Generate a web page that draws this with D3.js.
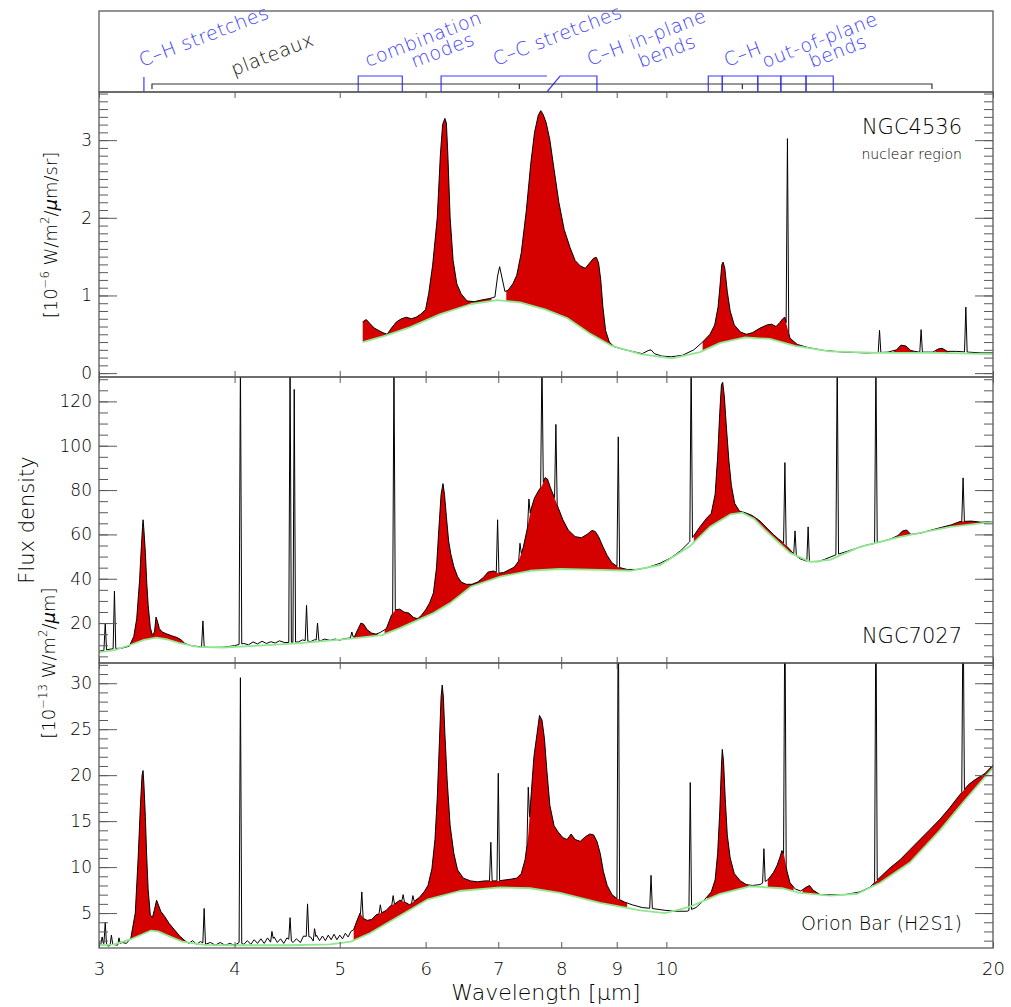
<!DOCTYPE html>
<html><head><meta charset="utf-8">
<script src="https://cdn.jsdelivr.net/npm/d3@7"></script>
<style>body{margin:0;background:#fff}</style>
</head><body>
<svg id="c" width="1011" height="1007"></svg>
<script>
// ---------------- DATA ----------------
const xTicks = [3,4,5,6,7,8,9,10,20];

// NGC4536 nuclear region  [wavelength (um), 1e-6 W/m2/um/sr]
const ngc4536Profile = [[5.25,0.66],[5.29,0.69],[5.33,0.64],[5.38,0.58],[5.43,0.55],[5.48,0.52],[5.53,0.50],[5.58,0.58],[5.64,0.66],[5.70,0.70],[5.76,0.72],[5.82,0.70],[5.88,0.72],[5.94,0.76],[6.00,0.82],[6.04,1.03],[6.09,1.39],[6.15,2.0],[6.19,2.8],[6.22,3.20],[6.25,3.28],[6.27,3.22],[6.29,2.80],[6.32,2.00],[6.36,1.45],[6.41,1.15],[6.47,1.02],[6.55,0.93],[6.65,0.92],[6.75,0.94],[6.87,0.96],[6.95,0.98],[6.99,1.25],[7.02,1.37],[7.05,1.25],[7.10,1.05],[7.15,1.07],[7.22,1.15],[7.28,1.26],[7.35,1.55],[7.43,2.10],[7.50,2.70],[7.56,3.10],[7.62,3.32],[7.66,3.38],[7.70,3.33],[7.75,3.22],[7.81,3.00],[7.88,2.62],[7.96,2.20],[8.05,1.85],[8.15,1.62],[8.24,1.45],[8.33,1.38],[8.42,1.35],[8.50,1.42],[8.57,1.48],[8.62,1.49],[8.66,1.42],[8.70,1.20],[8.74,0.85],[8.79,0.55],[8.86,0.40],[8.95,0.34],[9.10,0.31],[9.30,0.28],[9.50,0.25],[9.62,0.29],[9.68,0.30],[9.75,0.25],[9.90,0.22],[10.10,0.21],[10.35,0.23],[10.60,0.30],[10.80,0.40],[10.97,0.50],[11.08,0.62],[11.16,0.85],[11.21,1.15],[11.25,1.40],[11.28,1.43],[11.32,1.35],[11.38,1.05],[11.45,0.80],[11.55,0.62],[11.70,0.53],[11.85,0.50],[12.00,0.52],[12.20,0.58],[12.38,0.62],[12.50,0.63],[12.62,0.60],[12.72,0.65],[12.80,0.70],[12.86,0.72],[12.92,0.60],[13.00,0.45],[13.20,0.37],[13.50,0.33],[14.00,0.29],[14.60,0.27],[15.30,0.26],[16.00,0.27],[16.30,0.30],[16.45,0.36],[16.62,0.35],[16.80,0.29],[17.10,0.27],[17.60,0.27],[17.80,0.31],[17.95,0.32],[18.15,0.28],[18.50,0.28],[19.00,0.27],[19.50,0.26],[20.00,0.26]];
const ngc4536Continuum = [[5.25,0.40],[5.50,0.48],[5.80,0.59],[6.19,0.76],[6.61,0.89],[6.98,0.94],[7.33,0.91],[7.73,0.82],[8.10,0.71],[8.50,0.51],[8.91,0.35],[9.47,0.245],[10.12,0.19],[10.74,0.27],[11.21,0.39],[11.82,0.46],[12.46,0.44],[13.14,0.35],[14.15,0.28],[15.74,0.26],[17.87,0.26],[20.0,0.245]];
const ngc4536Lines = [[12.93,3.02],[15.72,0.55],[17.17,0.56],[18.88,0.85]];
const ngc4536Bands = [[5.25,6.9],[7.12,9.2],[10.8,13.3],[16.2,16.9],[17.7,18.2]];
const ngc4536YTicks = [0,1,2,3];

// NGC7027  [wavelength (um), 1e-13 W/m2/um]
const ngc7027Profile = [[3.00,7.3],[3.05,8.0],[3.10,8.5],[3.15,8.7],[3.20,9.6],[3.23,14],[3.25,22],[3.27,39.5],[3.28,52],[3.29,63],[3.294,66.6],[3.30,62],[3.31,52],[3.32,38],[3.33,28],[3.345,18],[3.36,14.5],[3.375,16],[3.386,22.7],[3.395,21],[3.41,17.5],[3.43,16.0],[3.46,15.2],[3.50,14.3],[3.54,13.5],[3.57,12.5],[3.60,10.8],[3.65,9.8],[3.72,9.3],[3.80,9.0],[3.90,9.1],[4.00,9.8],[4.04,10.4],[4.08,10.8],[4.12,10.2],[4.16,11.5],[4.20,10.6],[4.24,11.8],[4.28,10.8],[4.32,11.6],[4.36,11.0],[4.40,12.0],[4.45,11.2],[4.58,11.5],[4.62,12.4],[4.70,11.6],[4.74,12.5],[4.80,12.0],[4.84,12.8],[4.90,12.2],[4.95,12.8],[5.00,12.3],[5.05,13.0],[5.10,13.2],[5.16,14.0],[5.20,17.5],[5.23,20.0],[5.26,19.5],[5.30,17.0],[5.35,15.5],[5.40,15.0],[5.45,15.8],[5.52,17.5],[5.58,23.5],[5.63,26.0],[5.68,26.3],[5.73,25.0],[5.79,24.5],[5.85,22.5],[5.90,22.0],[5.95,23.6],[6.00,26.0],[6.05,29.0],[6.10,33.6],[6.14,45],[6.17,62],[6.20,78],[6.225,82.9],[6.245,78],[6.27,68],[6.30,57],[6.33,51],[6.37,45.5],[6.42,41],[6.47,38.5],[6.54,37.5],[6.62,37.5],[6.70,38.5],[6.78,40.5],[6.85,43.0],[6.93,43.5],[7.00,42.5],[7.08,42.8],[7.16,44.0],[7.24,45.2],[7.31,48.0],[7.38,54.0],[7.44,62.0],[7.50,71.0],[7.56,76.5],[7.62,79.5],[7.68,82.0],[7.73,85.6],[7.77,85.0],[7.82,81.0],[7.88,77.0],[7.95,72.0],[8.03,66.5],[8.12,62.0],[8.24,59.0],[8.35,58.5],[8.45,60.0],[8.54,61.8],[8.60,61.3],[8.66,59.0],[8.74,54.5],[8.82,50.5],[8.91,47.2],[9.03,45.2],[9.20,44.2],[9.40,44.2],[9.60,45.0],[9.87,47.0],[10.10,49.5],[10.30,52.5],[10.50,56.5],[10.74,63.5],[10.90,67.5],[11.00,69.5],[11.09,78.0],[11.15,95.0],[11.20,115.0],[11.24,127.5],[11.27,128.6],[11.31,122],[11.36,108],[11.42,93],[11.48,82],[11.56,74.0],[11.68,70.5],[11.82,69.8],[12.00,68.5],[12.20,66.0],[12.40,62.5],[12.55,60.0],[12.68,58.0],[12.80,56.5],[12.95,54.0],[13.10,51.3],[13.28,49.0],[13.50,47.8],[13.80,47.7],[14.00,48.8],[14.30,50.6],[14.77,52.8],[15.24,55.0],[15.57,56.0],[16.07,57.8],[16.35,59.5],[16.50,61.5],[16.65,62.0],[16.80,60.0],[17.13,60.5],[17.50,61.8],[17.87,63.0],[18.30,64.3],[18.65,65.8],[19.10,66.0],[19.50,65.5],[20.00,65.8]];
const ngc7027Continuum = [[3.00,6.9],[3.10,7.8],[3.20,10.0],[3.30,12.4],[3.39,13.4],[3.47,12.6],[3.56,11.0],[3.70,9.3],[3.90,9.0],[4.13,9.6],[4.60,11.0],[5.12,13.0],[5.47,14.6],[5.68,17.7],[6.10,24.5],[6.32,29.0],[6.61,36.5],[7.03,41.0],[7.49,43.6],[7.98,44.4],[8.69,44.0],[9.26,43.6],[9.87,46.2],[10.52,54.8],[10.97,63.4],[11.45,69.0],[11.75,69.8],[12.05,67.0],[12.33,62.0],[13.00,51.7],[13.57,47.6],[14.15,48.5],[15.08,54.4],[16.42,58.9],[18.26,63.4],[20.0,65.7]];
const ngc7027Lines = [[3.04,20],[3.10,34.4],[3.74,21],[4.05,140],[4.50,140],[4.54,125.4],[4.66,28],[4.77,20],[5.13,16],[5.61,140],[6.99,66.6],[7.33,56],[7.47,76],[7.68,140],[7.91,109.6],[9.03,104],[10.54,140],[12.86,92.4],[13.14,61.6],[13.51,63.4],[14.37,140],[15.60,140],[18.77,85.5]];
const ngc7027Bands = [[3.2,3.62],[5.15,5.42],[5.5,9.3],[10.6,13.2],[16.3,20.0]];
const ngc7027YTicks = [20,40,60,80,100,120];

// Orion Bar (H2S1)  [wavelength (um), 1e-13 W/m2/um]
const orionProfile = [[3.00,1.5],[3.03,1.7],[3.06,1.4],[3.09,1.6],[3.12,1.5],[3.15,1.8],[3.18,1.7],[3.21,2.3],[3.24,5.0],[3.26,11.0],[3.275,16.5],[3.287,20.0],[3.294,20.5],[3.30,19.0],[3.31,15.5],[3.32,11.0],[3.33,7.5],[3.345,4.8],[3.36,4.5],[3.375,5.4],[3.39,6.4],[3.40,6.0],[3.42,5.2],[3.45,4.6],[3.48,3.9],[3.52,3.2],[3.56,2.5],[3.60,2.0],[3.63,1.7],[3.66,2.0],[3.69,1.6],[3.72,1.9],[3.76,1.6],[3.80,1.8],[3.84,1.5],[3.88,1.8],[3.92,1.5],[3.96,1.7],[4.00,1.5],[4.04,1.8],[4.08,1.6],[4.11,2.0],[4.14,1.6],[4.17,2.1],[4.20,1.7],[4.23,2.2],[4.26,1.7],[4.29,2.3],[4.32,1.8],[4.35,2.4],[4.38,1.8],[4.41,2.2],[4.44,1.7],[4.47,2.3],[4.53,1.8],[4.56,2.2],[4.60,1.8],[4.63,2.5],[4.70,2.4],[4.73,1.9],[4.76,2.6],[4.79,2.0],[4.82,2.5],[4.85,2.0],[4.88,2.6],[4.91,2.1],[4.94,2.7],[4.97,2.1],[5.00,2.6],[5.03,2.2],[5.06,2.8],[5.09,2.4],[5.12,3.0],[5.15,3.2],[5.18,4.0],[5.22,5.0],[5.26,4.4],[5.30,4.2],[5.35,4.3],[5.40,4.8],[5.46,5.0],[5.52,5.3],[5.57,5.8],[5.62,6.0],[5.68,6.4],[5.74,6.2],[5.80,5.9],[5.86,6.3],[5.92,6.7],[5.98,7.3],[6.03,8.0],[6.08,9.8],[6.12,13.0],[6.15,17.5],[6.18,24.0],[6.20,28.5],[6.215,29.8],[6.23,28.5],[6.25,24.5],[6.28,19.5],[6.32,14.5],[6.37,11.5],[6.42,9.7],[6.50,8.8],[6.60,8.5],[6.70,8.4],[6.80,8.5],[6.90,8.5],[7.00,8.5],[7.10,8.6],[7.20,8.7],[7.28,8.8],[7.35,9.3],[7.41,10.8],[7.46,13.5],[7.50,17.3],[7.55,22.0],[7.60,24.5],[7.64,26.5],[7.68,26.0],[7.72,24.0],[7.76,20.5],[7.81,16.7],[7.88,14.5],[7.95,13.8],[8.03,13.2],[8.10,13.0],[8.17,13.6],[8.24,13.0],[8.33,12.8],[8.42,13.3],[8.50,13.6],[8.57,13.5],[8.63,12.8],[8.69,11.5],[8.75,9.5],[8.82,8.0],[8.91,7.0],[9.00,6.6],[9.15,6.2],[9.30,5.9],[9.50,5.6],[9.70,5.5],[9.97,5.3],[10.20,5.2],[10.45,5.2],[10.65,5.6],[10.85,6.5],[11.00,7.3],[11.09,8.6],[11.15,11.5],[11.20,16.0],[11.24,21.0],[11.26,22.8],[11.29,21.5],[11.33,17.5],[11.38,13.5],[11.45,11.0],[11.55,9.3],[11.70,8.5],[11.85,8.1],[12.00,8.0],[12.20,8.1],[12.40,8.6],[12.55,9.4],[12.65,10.2],[12.72,11.0],[12.78,11.8],[12.84,11.3],[12.92,9.5],[13.00,8.3],[13.15,7.6],[13.30,7.4],[13.45,7.8],[13.55,8.0],[13.65,7.5],[13.86,7.0],[14.20,7.0],[14.60,7.0],[15.08,7.3],[15.40,7.8],[15.74,8.9],[16.07,9.9],[16.42,10.8],[16.77,11.9],[17.13,13.0],[17.50,14.1],[17.87,15.2],[18.26,16.5],[18.65,17.9],[19.00,19.0],[19.25,19.5],[19.67,20.2],[20.00,21.1]];
const orionContinuum = [[3.00,1.5],[3.10,1.6],[3.20,2.1],[3.29,2.7],[3.35,3.1],[3.40,3.0],[3.48,2.5],[3.58,1.9],[3.75,1.55],[4.00,1.5],[4.50,1.5],[4.90,1.6],[5.12,1.9],[5.33,2.8],[5.68,4.7],[6.03,6.5],[6.45,7.4],[7.03,7.8],[7.49,7.7],[7.98,7.2],[8.69,6.1],[9.46,5.3],[9.97,5.0],[10.52,5.7],[11.21,7.1],[11.94,7.9],[12.78,7.7],[13.28,7.2],[14.15,6.9],[15.0,7.1],[15.74,8.3],[16.77,10.5],[17.87,14.0],[18.85,17.3],[20.0,20.8]];
const orionLines = [[3.02,2.4],[3.04,4.0],[3.08,2.6],[3.13,2.3],[3.75,5.5],[4.05,30.6],[4.33,3.0],[4.50,4.5],[4.67,6.0],[4.74,3.3],[5.24,7.3],[5.45,5.9],[5.60,6.9],[5.72,7.0],[5.84,6.9],[6.89,12.7],[7.00,20.2],[7.46,18.7],[9.03,40],[9.68,9.1],[10.52,19.2],[12.30,12.0],[12.86,40],[15.60,40],[18.77,40]];
const orionBands = [[3.2,3.6],[5.15,9.2],[10.9,11.9],[12.4,13.1],[13.35,13.8],[15.5,20.0]];
const orionYTicks = [5,10,15,20,25,30];

// Band identification (top strip), wavelengths in um
const chStretchLine = [3.3];
const bandBoxes = [[5.2,5.71],[10.93,11.26],[11.26,12.14],[12.14,12.75],[12.75,13.45],[13.45,14.25]];
const ccStretch = [6.2,7.76];
const chInPlane = [7.76,7.98,8.63];
const plateauSpan = [3.357,17.57];
const plateauTicks = [7.32,11.75];

// ---------------- LAYOUT ----------------
const L = 99, R = 993, annTop = 11;
const edges = [92, 377, 663, 948];
const FONT = '"DejaVu Sans", Verdana, sans-serif';
const FW = 200;
const INK = "#000", AXC = "#5a5a5a", BLUE = "#3c3cff";
const svg = d3.select("#c");
const x = d3.scaleLog().domain([3,20]).range([L,R]);

function interp(arr, lam){
  if (lam <= arr[0][0]) return arr[0][1];
  if (lam >= arr[arr.length-1][0]) return arr[arr.length-1][1];
  const i = d3.bisector(d=>d[0]).right(arr, lam);
  const a = arr[i-1], b = arr[i];
  const t = Math.log(lam/a[0])/Math.log(b[0]/a[0]);
  return a[1] + (b[1]-a[1])*t;
}

const panels = [
  {profile:ngc4536Profile, cont:ngc4536Continuum, lines:ngc4536Lines, bands:ngc4536Bands, domain:[-0.05,3.62], majors:ngc4536YTicks, minors:d3.range(0,3.65,0.1)},
  {profile:ngc7027Profile, cont:ngc7027Continuum, lines:ngc7027Lines, bands:ngc7027Bands, domain:[2,131], majors:ngc7027YTicks, minors:d3.range(5,131,5)},
  {profile:orionProfile, cont:orionContinuum, lines:orionLines, bands:orionBands, domain:[1.2,32.2], majors:orionYTicks, minors:d3.range(2,33,1)}
];

const defs = svg.append("defs");

panels.forEach((p, i) => {
  const top = edges[i], bot = edges[i+1];
  const y = d3.scaleLinear().domain(p.domain).range([bot, top]);
  defs.append("clipPath").attr("id","clip"+i).append("rect")
    .attr("x",L).attr("y",top).attr("width",R-L).attr("height",bot-top);
  const g = svg.append("g").attr("clip-path",`url(#clip${i})`);

  // red band fills
  p.bands.forEach(([a,b]) => {
    const lams = [a, ...p.profile.map(d=>d[0]).filter(l=>l>a&&l<b), ...p.cont.map(d=>d[0]).filter(l=>l>a&&l<b), b].sort((m,n)=>m-n);
    const pts = lams.map(l => ({l, c:interp(p.cont,l), s:interp(p.profile,l)}));
    g.append("path").datum(pts)
      .attr("d", d3.area().x(d=>x(d.l)).y0(d=>y(d.c)).y1(d=>y(Math.max(d.s,d.c))))
      .attr("fill","#d50000");
  });

  // spectrum = profile + narrow lines
  const hw = 1.0028;
  let pts = p.profile.filter(d => !p.lines.some(([l]) => d[0] > l/hw && d[0] < l*hw)).map(d=>[d[0],d[1]]);
  p.lines.forEach(([l,pk]) => {
    pts.push([l/hw, interp(p.profile,l/hw)], [l,pk], [l*hw, interp(p.profile,l*hw)]);
  });
  pts.sort((a,b)=>a[0]-b[0]);
  g.append("path").datum(pts)
    .attr("d", d3.line().x(d=>x(d[0])).y(d=>y(d[1])))
    .attr("fill","none").attr("stroke","#000").attr("stroke-width",1).attr("stroke-linejoin","round");

  // continuum
  g.append("path").datum(p.cont)
    .attr("d", d3.line().x(d=>x(d[0])).y(d=>y(d[1])))
    .attr("fill","none").attr("stroke","#8fe88f").attr("stroke-width",1.8).attr("stroke-linejoin","round");

  // y axes
  const styleAxis = (sel) => { sel.select(".domain").remove(); sel.attr("color",AXC).attr("font-family",FONT).attr("font-weight",FW).attr("font-size",17); sel.selectAll("text").attr("fill",INK); };
  svg.append("g").attr("transform",`translate(${L},0)`)
    .call(d3.axisLeft(y).tickValues(p.minors).tickSize(-9).tickFormat("")).call(styleAxis);
  svg.append("g").attr("transform",`translate(${L},0)`)
    .call(d3.axisLeft(y).tickValues(p.majors).tickSize(-18).tickPadding(7).tickFormat(d3.format("d"))).call(styleAxis);
  svg.append("g").attr("transform",`translate(${R},0)`)
    .call(d3.axisRight(y).tickValues(p.minors).tickSize(-9).tickFormat("")).call(styleAxis);
  svg.append("g").attr("transform",`translate(${R},0)`)
    .call(d3.axisRight(y).tickValues(p.majors).tickSize(-18).tickFormat("")).call(styleAxis);

  // x axes (top and bottom of every panel)
  svg.append("g").attr("transform",`translate(0,${top})`)
    .call(d3.axisTop(x).tickValues(xTicks).tickSize(-6).tickFormat("")).call(styleAxis);
  const bx = svg.append("g").attr("transform",`translate(0,${bot})`)
    .call(d3.axisBottom(x).tickValues(xTicks).tickSize(-6).tickPadding(14)
      .tickFormat(i===2 ? d3.format("d") : ""));
  styleAxis(bx); bx.attr("font-size",18);

  // frame
  svg.append("rect").attr("x",L).attr("y",top).attr("width",R-L).attr("height",bot-top)
    .attr("fill","none").attr("stroke",AXC).attr("stroke-width",1.3);
});

// annotation strip frame
svg.append("rect").attr("x",L).attr("y",annTop).attr("width",R-L).attr("height",edges[0]-annTop)
  .attr("fill","none").attr("stroke",AXC).attr("stroke-width",1.3);

const ann = svg.append("g").attr("fill","none").attr("stroke-width",1.2);
const yb = edges[0], yBox = 76, yPl = 84, yPlT = 89;
chStretchLine.forEach(l => ann.append("path").attr("d",`M${x(l)},${yb}V77`).attr("stroke",BLUE));
bandBoxes.forEach(([a,b]) => ann.append("path").attr("d",`M${x(a)},${yb}V${yBox}H${x(b)}V${yb}`).attr("stroke",BLUE));
ann.append("path").attr("d",`M${x(ccStretch[0])},${yb}V${yBox}H${x(ccStretch[1])}`).attr("stroke",BLUE);
ann.append("path").attr("d",`M${x(chInPlane[0])},${yb}L${x(chInPlane[1])},${yBox}H${x(chInPlane[2])}V${yb}`).attr("stroke",BLUE);
ann.append("path").attr("d",`M${x(plateauSpan[0])},${yPlT}V${yPl}H${x(plateauSpan[1])}V${yPlT}`).attr("stroke","#333");
plateauTicks.forEach(l => ann.append("path").attr("d",`M${x(l)},${yPl}V${yPlT}`).attr("stroke","#333"));

const annLabels = [
  ["C–H stretches",142,67,BLUE],["plateaux",234,76,"#111"],["combination",368,67,BLUE],["modes",414,68,BLUE],
  ["C–C stretches",496,66,BLUE],["C–H in-plane",590,66,BLUE],["bends",641,68,BLUE],
  ["C–H",727,67,BLUE],["out-of-plane",765,68,BLUE],["bends",812,68,BLUE]
];
annLabels.forEach(([t,px,py,c]) => svg.append("text").attr("transform",`translate(${px},${py}) rotate(-21)`)
  .attr("font-family",FONT).attr("font-weight",FW).attr("font-size",19).attr("letter-spacing",0.5).attr("fill",c).text(t));

// panel labels
function txt(t,px,py,size,anchor){ return svg.append("text").attr("x",px).attr("y",py).attr("font-family",FONT).attr("font-weight",FW)
  .attr("font-size",size).attr("fill",INK).attr("text-anchor",anchor||"end").text(t); }
txt("NGC4536",962,134,21);
txt("nuclear region",962,159,14);
txt("NGC7027",962,643,21);
txt("Orion Bar (H2S1)",962,930,19);
txt("Wavelength [μm]",546,1000,22,"middle");

// rotated y titles with superscripts
function yTitle(cx, cy, parts, size){
  const t = svg.append("text").attr("transform",`translate(${cx},${cy}) rotate(-90)`)
    .attr("text-anchor","middle").attr("font-family",FONT).attr("font-weight",FW).attr("font-size",size).attr("fill",INK);
  parts.forEach(([s,kind]) => {
    const sp = t.append("tspan").text(s);
    if (kind==="sup") sp.attr("font-size",size*0.65).attr("dy",-size*0.42);
    if (kind==="after") sp.attr("dy",size*0.42);
    if (kind==="it") sp.attr("font-style","italic");
  });
}
yTitle(57,235,[["[10",""],["−6","sup"],[" W/m","after"],["2","sup"],["/","after"],["μ","it"],["m/sr]",""]],18);
svg.append("text").attr("transform","translate(34,520) rotate(-90)").attr("text-anchor","middle")
  .attr("font-family",FONT).attr("font-weight",FW).attr("font-size",21).attr("fill",INK).text("Flux density");
yTitle(55,663,[["[10",""],["−13","sup"],[" W/m","after"],["2","sup"],["/","after"],["μ","it"],["m]",""]],18);
</script>
</body></html>
